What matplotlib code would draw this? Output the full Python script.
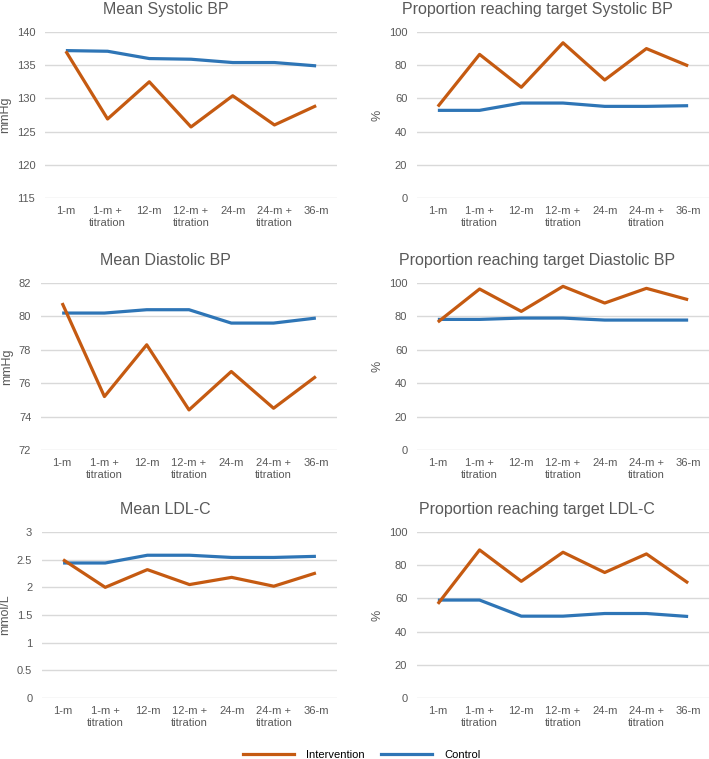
import matplotlib
matplotlib.use("Agg")
import matplotlib.pyplot as plt
from matplotlib.lines import Line2D

plt.rcParams["font.family"] = ["Liberation Sans", "DejaVu Sans"]

# Data
timepoints = ["1-m", "1-m +\ntitration", "12-m", "12-m +\ntitration",
              "24-m", "24-m +\ntitration", "36-m"]

sbp_int = [137.1, 126.9, 132.5, 125.7, 130.4, 126.0, 128.9]
sbp_ctl = [137.2, 137.1, 136.0, 135.9, 135.4, 135.4, 134.9]

sbp_pct_int = [55.1, 86.5, 66.7, 93.5, 71.1, 90.0, 79.6]
sbp_pct_ctl = [52.8, 52.8, 57.2, 57.2, 55.2, 55.2, 55.6]

dbp_int = [80.8, 75.2, 78.3, 74.4, 76.7, 74.5, 76.4]
dbp_ctl = [80.2, 80.2, 80.4, 80.4, 79.6, 79.6, 79.9]

dbp_pct_int = [76.6, 96.4, 83.0, 98.0, 88.0, 96.8, 90.0]
dbp_pct_ctl = [78.2, 78.2, 79.0, 79.0, 77.8, 77.8, 77.8]

ldl_int = [2.50, 2.00, 2.32, 2.05, 2.18, 2.02, 2.26]
ldl_ctl = [2.44, 2.44, 2.58, 2.58, 2.54, 2.54, 2.56]

ldl_pct_int = [56.7, 89.2, 70.3, 87.8, 75.6, 86.8, 69.3]
ldl_pct_ctl = [59.0, 59.0, 49.3, 49.3, 50.9, 50.9, 49.1]

ORANGE = "#C55A11"
BLUE = "#2E75B6"
GRID = "#D9D9D9"
TXT = "#595959"

W, H = 709, 759
fig = plt.figure(figsize=(W / 100, H / 100), dpi=100)


def make_ax(x0, x1, ytop, ybot):
    return fig.add_axes([x0 / W, 1 - ybot / H, (x1 - x0) / W, (ybot - ytop) / H])


panels = [
    # (axes box px, title centre px, title, ylabel, ylim, ticks, intervention, control)
    ((45, 337, 32, 198), 166, "Mean Systolic BP", "mmHg", (115, 140),
     [115, 120, 125, 130, 135, 140], sbp_int, sbp_ctl),
    ((417, 709, 32, 198), 537, "Proportion reaching target Systolic BP", "%", (0, 100),
     [0, 20, 40, 60, 80, 100], sbp_pct_int, sbp_pct_ctl),
    ((41, 337, 283, 450), 165, "Mean Diastolic BP", "mmHg", (72, 82),
     [72, 74, 76, 78, 80, 82], dbp_int, dbp_ctl),
    ((417, 709, 283, 450), 537, "Proportion reaching target Diastolic BP", "%", (0, 100),
     [0, 20, 40, 60, 80, 100], dbp_pct_int, dbp_pct_ctl),
    ((42, 337, 532, 698), 165, "Mean LDL-C", "mmol/L", (0, 3),
     [0, 0.5, 1, 1.5, 2, 2.5, 3], ldl_int, ldl_ctl),
    ((417, 709, 532, 698), 537, "Proportion reaching target LDL-C", "%", (0, 100),
     [0, 20, 40, 60, 80, 100], ldl_pct_int, ldl_pct_ctl),
]

x = list(range(len(timepoints)))
for box, tcx, title, ylabel, ylim, ticks, yi, yc in panels:
    ax = make_ax(*box)
    ax.plot(x, yc, color=BLUE, lw=2.3, solid_capstyle="butt", zorder=3)
    ax.plot(x, yi, color=ORANGE, lw=2.3, solid_capstyle="butt", zorder=4)
    ax.set_xlim(-0.5, len(x) - 0.5)
    ax.set_ylim(*ylim)
    ax.set_yticks(ticks)
    ax.set_yticklabels([f"{t:g}" for t in ticks])
    ax.set_xticks(x)
    ax.set_xticklabels(timepoints, linespacing=1.25)
    ax.grid(axis="y", color=GRID, lw=1)
    ax.set_axisbelow(True)
    for s in ax.spines.values():
        s.set_visible(False)
    ax.tick_params(length=0, colors=TXT, labelsize=8)
    ax.tick_params(axis="y", pad=7)
    ax.tick_params(axis="x", pad=6)
    # Excel centres the title on the whole chart area, not on the plot area
    ax.set_title(title, color=TXT, fontsize=11.5, pad=13,
                 x=(tcx - box[0]) / (box[1] - box[0]))
    ax.set_ylabel(ylabel, color=TXT, fontsize=9, labelpad=4)

handles = [Line2D([], [], color=ORANGE, lw=2.3),
           Line2D([], [], color=BLUE, lw=2.3)]
leg = fig.legend(handles, ["Intervention", "Control"], loc="center",
                 bbox_to_anchor=(0.51, 1 - 755 / H), ncol=2, frameon=False,
                 fontsize=8, handlelength=4.6, handletextpad=1.1,
                 columnspacing=1.4)
for t in leg.get_texts():
    t.set_color("#000000")

fig.savefig("out.png", dpi=100)
